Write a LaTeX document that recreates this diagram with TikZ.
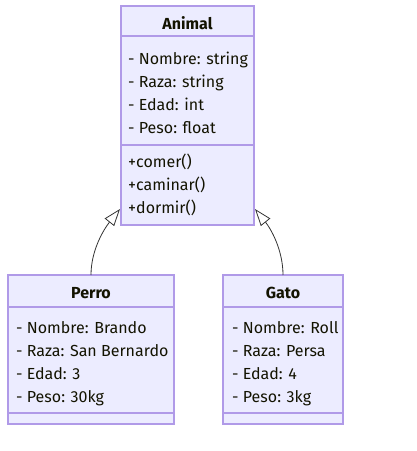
\documentclass[tikz,border=0pt]{standalone}
\usepackage{fontspec}
\setmainfont{Fira Sans}
\usetikzlibrary{arrows.meta}
\definecolor{boxfill}{HTML}{ECECFF}
\definecolor{boxline}{HTML}{B09AE8}
\definecolor{edge}{HTML}{333333}
\definecolor{txt}{HTML}{131300}
\begin{document}
\begin{tikzpicture}[x=1pt,y=-1pt,
  comp/.style={draw=boxline, fill=boxfill, line width=1.4pt, anchor=north west, inner sep=0pt, outer sep=0pt},
  lbl/.style={anchor=base west, inner sep=0pt, text=txt, font=\fontsize{16}{19}\selectfont},
  ttl/.style={anchor=base, inner sep=0pt, text=txt, font=\fontsize{16}{19}\selectfont\bfseries},
  inh/.style={draw=edge, line width=0.8pt, -{Triangle[fill=white, length=17pt, width=12pt, line width=0.8pt]}}
]
\useasboundingbox (0,0) rectangle (417,451);
% Animal
\node[comp, minimum width=133pt, minimum height=30pt] (ahead) at (121,6) {};
\node[comp, minimum width=133pt, minimum height=109pt] (aattr) at (121,36) {};
\node[comp, minimum width=133pt, minimum height=80pt] (ameth) at (121,145) {};
\node[ttl] (atitle) at (187.5,29) {Animal};
\node[lbl] (a1) at (128,64) {- Nombre: string};
\node[lbl] (a2) at (128,87) {- Raza: string};
\node[lbl] (a3) at (128,110) {- Edad: int};
\node[lbl] (a4) at (128,133) {- Peso: float};
\node[lbl] (m1) at (128,167) {+comer()};
\node[lbl] (m2) at (128,190) {+caminar()};
\node[lbl] (m3) at (128,213) {+dormir()};
% Perro
\node[comp, minimum width=166pt, minimum height=32pt] (phead) at (8,275) {};
\node[comp, minimum width=166pt, minimum height=106pt] (pattr) at (8,307) {};
\node[comp, minimum width=166pt, minimum height=11pt] (pmeth) at (8,413) {};
\node[ttl] (ptitle) at (91,298) {Perro};
\node[lbl] (p1) at (16,333) {- Nombre: Brando};
\node[lbl] (p2) at (16,356) {- Raza: San Bernardo};
\node[lbl] (p3) at (16,379) {- Edad: 3};
\node[lbl] (p4) at (16,402) {- Peso: 30kg};
% Gato
\node[comp, minimum width=120pt, minimum height=32pt] (ghead) at (223,275) {};
\node[comp, minimum width=120pt, minimum height=106pt] (gattr) at (223,307) {};
\node[comp, minimum width=120pt, minimum height=11pt] (gmeth) at (223,413) {};
\node[ttl] (gtitle) at (283,298) {Gato};
\node[lbl] (g1) at (232,333) {- Nombre: Roll};
\node[lbl] (g2) at (232,356) {- Raza: Persa};
\node[lbl] (g3) at (232,379) {- Edad: 4};
\node[lbl] (g4) at (232,402) {- Peso: 3kg};
% inheritance
\coordinate (tipL) at (120,209);
\coordinate (tipR) at (255,209);
\draw[inh] (phead.north) .. controls (91,250) and (104,229) .. (tipL);
\draw[inh] (ghead.north) .. controls (283,250) and (271,229) .. (tipR);
\end{tikzpicture}
\end{document}
